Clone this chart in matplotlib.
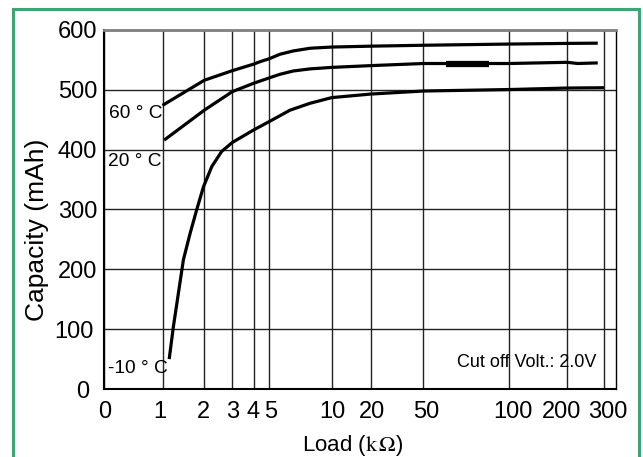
import numpy as np
import matplotlib
matplotlib.use("Agg")
import matplotlib.pyplot as plt
from matplotlib.lines import Line2D
from matplotlib.transforms import ScaledTranslation

plt.rcParams['font.family'] = ['Liberation Sans', 'DejaVu Sans']
plt.rcParams['mathtext.fontset'] = 'stix'

# irregular load axis: tick values and where they sit along the axis (0..512)
scale_vals = [0, 1, 2, 3, 4, 5, 10, 20, 50, 100, 200, 300, 333]
scale_pos = [0, 58.5, 100.3, 128.3, 149.7, 165.3, 227.7, 267.3, 319.3, 405.3, 463.3, 500, 512]
x_ticks = [0, 1, 2, 3, 4, 5, 10, 20, 50, 100, 200, 300]
x_labels = ['0', '1', '2', '3', '4', '5', '10', '20', '50', '100', '200', '300']
# small sideways shifts of some tick labels (pixels), as in the original
x_label_shift = [1, -2.5, -1, 0, -1, 1, 1, 1, 3, 4, -6, 4]
y_ticks = [0, 100, 200, 300, 400, 500, 600]
y_label_shift = [-8, -3, 0, 0, 0, 0, 0]

# capacity curves (mAh) vs load (kOhm)
load_60 = [1.0, 2.0, 3.0, 4.0, 4.4, 5.0, 5.86, 6.92, 8.26, 10, 20, 50, 100, 200, 283]
cap_60 = [474, 516, 532, 543, 547, 552, 559.5, 565, 569.5, 571.5, 573, 574.5, 576.5, 577.6, 578]

load_20 = [1.04, 2.0, 3.0, 4.0, 5.0, 5.86, 6.92, 8.26, 10, 20, 50, 100, 200, 228, 283]
cap_20 = [416, 466, 497, 511, 520, 526, 531.5, 535, 537.5, 540.5, 544, 544, 546, 544, 545]

load_m10 = [1.16, 1.26, 1.38, 1.50, 1.66, 1.82, 1.98, 2.27, 2.62, 3.0, 4.0, 5.0,
            6.66, 8.26, 10, 20, 50, 100, 200, 300]
cap_m10 = [50, 104, 160, 216, 260, 300, 338, 372, 397, 412, 433, 447,
           466, 477.5, 487, 493, 498, 500.5, 503, 503.5]

# thick blob on the 20 C curve
blob_load = [63, 88]
blob_cap = [544, 544]


def fwd(v):
    return np.interp(v, scale_vals, scale_pos)


def inv(p):
    return np.interp(p, scale_pos, scale_vals)


fig = plt.figure(figsize=(6.43, 4.57), dpi=100)
ax = fig.add_axes([104 / 643, 68 / 457, 512 / 643, 359 / 457])
ax.set_xscale('function', functions=(fwd, inv))
ax.set_xlim(0, 333)
ax.set_ylim(0, 600)

ax.set_xticks(x_ticks)
ax.set_xticklabels(x_labels)
ax.set_yticks(y_ticks)
ax.tick_params(length=0, labelsize=17)
ax.tick_params(axis='x', pad=9)
ax.tick_params(axis='y', pad=5)
for lab, dx in zip(ax.get_xticklabels(), x_label_shift):
    lab.set_transform(lab.get_transform() + ScaledTranslation(dx / 100, 0, fig.dpi_scale_trans))
for lab, dx in zip(ax.get_yticklabels(), y_label_shift):
    lab.set_transform(lab.get_transform() + ScaledTranslation(dx / 100, 0, fig.dpi_scale_trans))

ax.grid(True, color='#222222', linewidth=1.0)
ax.set_axisbelow(True)

for s in ['left', 'bottom']:
    ax.spines[s].set_color('black')
    ax.spines[s].set_linewidth(1.5)
ax.spines['top'].set_color('#808080')
ax.spines['top'].set_linewidth(2)
ax.spines['right'].set_color('black')
ax.spines['right'].set_linewidth(1)

for xs, ys in [(load_60, cap_60), (load_20, cap_20), (load_m10, cap_m10)]:
    ax.plot(xs, ys, color='black', linewidth=2.3, solid_capstyle='butt', solid_joinstyle='round')
ax.plot(blob_load, blob_cap, color='black', linewidth=4.5, solid_capstyle='butt')

ax.text(0.01, 0.768, '60 ° C', transform=ax.transAxes, fontsize=13.8, va='center', ha='left')
ax.text(0.008, 0.634, '20 ° C', transform=ax.transAxes, fontsize=13.8, va='center', ha='left')
ax.text(0.008, 0.058, '-10 ° C', transform=ax.transAxes, fontsize=13.8, va='center', ha='left')
ax.text(0.961, 0.075, 'Cut off Volt.: 2.0V', transform=ax.transAxes, fontsize=13,
        va='center', ha='right')

fig.text(37 / 643, 1 - 229.5 / 457, 'Capacity (mAh)', rotation=90, fontsize=19,
         ha='center', va='center')
fig.text(353 / 643, 1 - 446 / 457, r'Load ($\mathrm{k}\,\Omega$)', fontsize=16,
         ha='center', va='center')

# green frame around the picture (no bottom edge visible)
green = '#3fa574'
top = 1 - 8.5 / 457
fig.add_artist(Line2D([13 / 643, 13 / 643], [-0.05, top], color=green, linewidth=2.2))
fig.add_artist(Line2D([13 / 643, 639 / 643], [top, top], color=green, linewidth=2.2))
fig.add_artist(Line2D([639 / 643, 639 / 643], [-0.05, top], color=green, linewidth=2.2))

fig.savefig('out.png', dpi=100)
